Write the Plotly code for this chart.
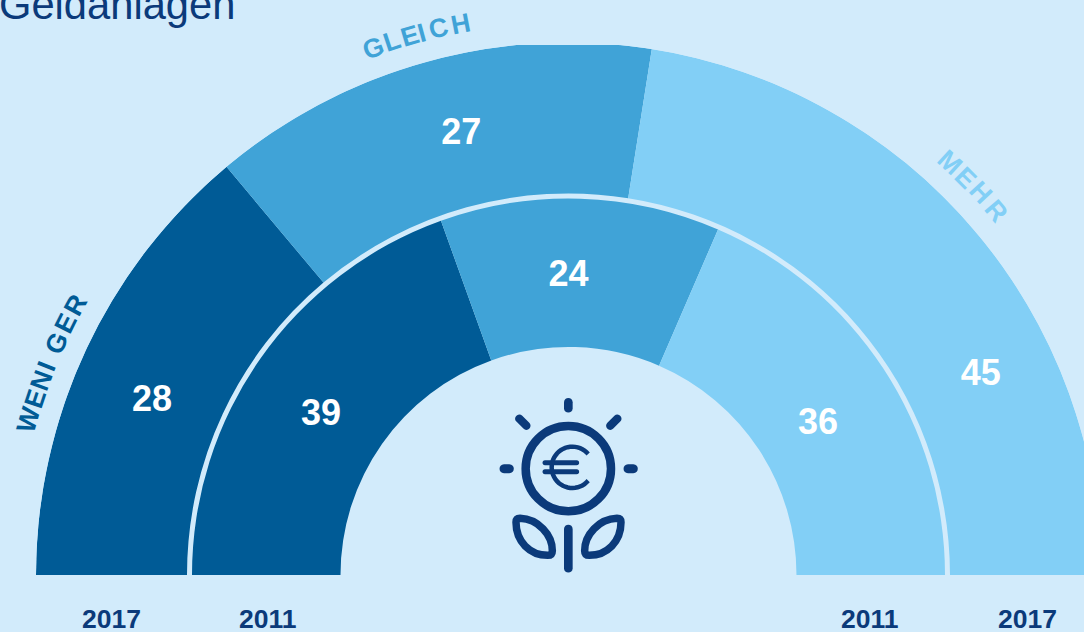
import math
import plotly.graph_objects as go

# ---- data -------------------------------------------------------------
title = "Geldanlagen"
categories = ["WENIGER", "GLEICH", "MEHR"]
share_2017 = [27.8, 27.2, 45]
share_2011 = [39, 24, 36]
years = ["2017", "2011", "2011", "2017"]
colors = ["#005B96", "#40A3D7", "#82CFF6"]

# curved captions: letters and the angle (deg) at which each one sits
weniger_letters = list("WENIGER")
weniger_angles = [164.0, 161.7, 159.8, 158.2, 155.6, 153.4, 151.3]
gleich_letters = list("GLEICH")
gleich_angles = [110.3, 108.3, 106.4, 105.2, 103.4, 101.1]
mehr_letters = list("MEHR")
mehr_angles = [47.3, 45.0, 42.9, 40.4]

# value label positions (radius, angle)
label_r_2017 = [451, 453, 458]
label_t_2017 = [157.4, 103.7, 25.8]
label_r_2011 = [294.2, 298, 291]
label_t_2011 = [147.3, 90, 31]

# ---- geometry ----------------------------------------------------------
W, H = 1120, 632
CX, CY = 568.5, 575
R_IN, R_MID, R_GAP, R_OUT = 228, 376.5, 381.5, 532.5
TOP_CLIP = 45
BG, NAVY = "#D2EBFB", "#0B3A7A"
FONT = "Liberation Sans, Arial, sans-serif"


def px(x):
    return x / W


def py(y):
    return 1 - y / H


def spans(values):
    """Angles of each slice, laid out from the left end of the half circle."""
    start, out = 0, []
    for i, v in enumerate(values):
        end = 100 if i == len(values) - 1 else start + v
        out.append((180 - (start + end) / 2 * 1.8, (end - start) * 1.8))
        start = end
    return out


fig = go.Figure()
s17, s11 = spans(share_2017), spans(share_2011)
for i, cat in enumerate(categories):
    fig.add_trace(go.Barpolar(
        r=[R_OUT - R_GAP, R_MID - R_IN],
        base=[R_GAP, R_IN],
        theta=[s17[i][0], s11[i][0]],
        width=[s17[i][1], s11[i][1]],
        marker=dict(color=colors[i], line=dict(width=0)),
        name=cat, showlegend=False, hoverinfo="skip",
    ))
fig.add_trace(go.Scatterpolar(
    r=label_r_2017 + label_r_2011,
    theta=label_t_2017 + label_t_2011,
    text=[str(round(v)) for v in share_2017 + share_2011],
    mode="text",
    textfont=dict(family=FONT, size=36, color="white", weight="bold"),
    showlegend=False, hoverinfo="skip", cliponaxis=False,
))

annotations = []


def add_text(x, y, text, size, color, bold=True, angle=0, xanchor="center", yanchor="middle"):
    annotations.append(dict(
        x=px(x), y=py(y), xref="paper", yref="paper", text=text, showarrow=False,
        xanchor=xanchor, yanchor=yanchor, textangle=angle, borderpad=0,
        font=dict(family=FONT, size=size, color=color, weight="bold" if bold else "normal"),
    ))


for letters, angles, col in [(weniger_letters, weniger_angles, colors[0]),
                             (gleich_letters, gleich_angles, colors[1]),
                             (mehr_letters, mehr_angles, colors[2])]:
    for ch, a in zip(letters, angles):
        add_text(CX + 562 * math.cos(math.radians(a)), CY - 562 * math.sin(math.radians(a)),
                 ch, 26.5, col, angle=90 - a)

for x, y in zip([111.5, 268, 870, 1027], years):
    add_text(x, 619, y, 26.5, NAVY)
annotations.append(dict(
    x=px(-3), y=py(30), xref="paper", yref="paper", text=title, showarrow=False,
    xanchor="left", yanchor="bottom",
    font=dict(family=FONT, size=41.7, color=NAVY),
))

# ---- icon --------------------------------------------------------------
OX, OY = 480, 385


def zx(v):
    return px(OX + v / 3)


def zy(v):
    return py(OY + v / 3)


def stadium(x1, y1, x2, y2, w):
    dx, dy = x2 - x1, y2 - y1
    n = math.hypot(dx, dy)
    ux, uy = dx / n, dy / n
    nx, ny = -uy * w / 2, ux * w / 2
    k = w * 0.66
    pts = [(x1 + nx, y1 + ny), (x2 + nx, y2 + ny)]
    p = f"M{zx(pts[0][0])},{zy(pts[0][1])} L{zx(pts[1][0])},{zy(pts[1][1])} "
    p += (f"C{zx(x2 + nx + ux * k)},{zy(y2 + ny + uy * k)} "
          f"{zx(x2 - nx + ux * k)},{zy(y2 - ny + uy * k)} {zx(x2 - nx)},{zy(y2 - ny)} ")
    p += f"L{zx(x1 - nx)},{zy(y1 - ny)} "
    p += (f"C{zx(x1 - nx - ux * k)},{zy(y1 - ny - uy * k)} "
          f"{zx(x1 + nx - ux * k)},{zy(y1 + ny - uy * k)} {zx(x1 + nx)},{zy(y1 + ny)} Z")
    return p


shapes = [dict(type="rect", xref="paper", yref="paper", x0=px(CX - 120), x1=px(CX + 120),
               y0=py(TOP_CLIP), y1=py(TOP_CLIP - 6), fillcolor=BG, line=dict(width=0), layer="above")]
for seg, w in [((265, 52, 265, 70), 26), ((72, 251, 88, 251), 27), ((444, 251, 460, 251), 27),
               ((118, 101, 139, 122), 25), ((412, 101, 391, 122), 25),
               ((265, 432, 265, 550), 26), ((195, 233, 290, 233), 15), ((195, 260, 290, 260), 15)]:
    shapes.append(dict(type="path", xref="paper", yref="paper", path=stadium(*seg, w),
                       fillcolor=NAVY, line=dict(width=0), layer="above"))

# coin ring, drawn as a closed curve of four cubic arcs
cx, cy, r = 265, 251, 128
k = 0.5523 * r
ring = (f"M{zx(cx + r)},{zy(cy)} "
        f"C{zx(cx + r)},{zy(cy + k)} {zx(cx + k)},{zy(cy + r)} {zx(cx)},{zy(cy + r)} "
        f"C{zx(cx - k)},{zy(cy + r)} {zx(cx - r)},{zy(cy + k)} {zx(cx - r)},{zy(cy)} "
        f"C{zx(cx - r)},{zy(cy - k)} {zx(cx - k)},{zy(cy - r)} {zx(cx)},{zy(cy - r)} "
        f"C{zx(cx + k)},{zy(cy - r)} {zx(cx + r)},{zy(cy - k)} {zx(cx + r)},{zy(cy)} Z")
shapes.append(dict(type="path", xref="paper", yref="paper", path=ring,
                   line=dict(color=NAVY, width=8.5), layer="above"))

# euro arc
ex, ey, er = 277, 247, 62
a0, a1 = math.radians(40), math.radians(320)
pts = [(ex + er * math.cos(a0 + (a1 - a0) * i / 40), ey - er * math.sin(a0 + (a1 - a0) * i / 40))
       for i in range(41)]
shapes.append(dict(type="path", xref="paper", yref="paper",
                   path="M" + " L".join(f"{zx(a)},{zy(b)}" for a, b in pts),
                   line=dict(color=NAVY, width=4.5), layer="above"))

# leaves
for mirror in (False, True):
    f = (lambda v: 531 - v) if mirror else (lambda v: v)
    leaf = (f"M{zx(f(120))},{zy(400)} "
            f"C{zx(f(175))},{zy(402)} {zx(f(217))},{zy(450)} {zx(f(217))},{zy(497)} "
            f"Q{zx(f(217))},{zy(511)} {zx(f(203))},{zy(511)} "
            f"C{zx(f(150))},{zy(511)} {zx(f(108))},{zy(470)} {zx(f(108))},{zy(412)} "
            f"Q{zx(f(108))},{zy(400)} {zx(f(120))},{zy(400)} Z")
    shapes.append(dict(type="path", xref="paper", yref="paper", path=leaf,
                       line=dict(color=NAVY, width=7.5), layer="above"))

fig.update_layout(
    width=W, height=H, autosize=False,
    margin=dict(l=0, r=0, t=0, b=0, pad=0),
    paper_bgcolor=BG, plot_bgcolor=BG,
    showlegend=False,
    polar=dict(
        domain=dict(x=[px(CX - R_OUT), px(CX + R_OUT)], y=[py(CY), py(CY - R_OUT)]),
        sector=[0, 180], bgcolor="rgba(0,0,0,0)", barmode="overlay",
        radialaxis=dict(visible=False, range=[0, R_OUT]),
        angularaxis=dict(visible=False, direction="counterclockwise", rotation=0,
                         thetaunit="degrees"),
    ),
    annotations=annotations, shapes=shapes,
)

fig.write_html(
    "out.html",
    config=dict(displayModeBar=False),
    post_script=("document.documentElement.style.overflow='hidden';"
                 "document.body.style.overflow='hidden';"
                 "document.body.style.margin='0';"
                 "document.body.style.background='" + BG + "';"),
)
